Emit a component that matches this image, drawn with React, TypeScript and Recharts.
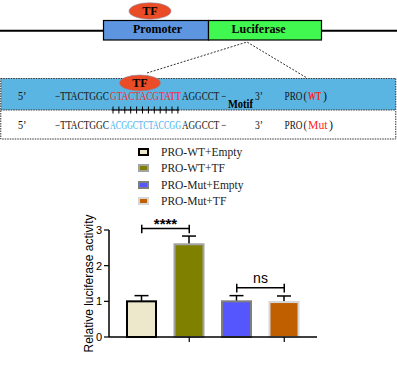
import React, { useLayoutEffect, useRef, useState } from "react";
import { BarChart, Bar, Cell, XAxis, YAxis, Legend, ReferenceLine } from "recharts";

const groups = ["PRO-WT+Empty", "PRO-WT+TF", "PRO-Mut+Empty", "PRO-Mut+TF"];
const activity = [1.0, 2.6, 1.0, 0.98];
const sem = [0.16, 0.23, 0.16, 0.17];
const yTicks = [0, 1, 2, 3];

const fills = ["#EDE8CC", "#808000", "#5656FF", "#C05F00"];
const strokes = ["#000000", "#A3A3A3", "#7E7E7E", "#D6D6D6"];

const data = groups.map((g, i) => ({ group: g, activity: activity[i], sem: sem[i] }));

const serif = '"Liberation Serif", "Times New Roman", serif';
const sans = '"Liberation Sans", Arial, sans-serif';
const red = "#FF1E1E";

// bar with a one-sided (upper) error bar, like GraphPad draws it
const BarWithError = (props: any) => {
  const { x, y, width, height, fill, stroke, payload } = props;
  const perUnit = height / payload.activity;
  const top = y - payload.sem * perUnit;
  const cx = x + width / 2;
  return (
    <g>
      <line x1={cx} y1={y} x2={cx} y2={top} stroke="#000" strokeWidth={1.5} />
      <line x1={cx - 7} y1={top} x2={cx + 7} y2={top} stroke="#000" strokeWidth={1.5} />
      <rect x={x} y={y} width={width} height={height} fill={fill} stroke={stroke} strokeWidth={2} />
    </g>
  );
};

const renderLegend = () => (
  <div style={{ fontFamily: serif, fontSize: 11.5, color: "#222" }}>
    {groups.map((g, i) => (
      <div key={g} style={{ display: "flex", alignItems: "center", height: 16.4 }}>
        <span
          style={{
            display: "inline-block",
            boxSizing: "border-box",
            width: 11,
            height: 8,
            background: fills[i],
            border: `2px solid ${strokes[i]}`,
          }}
        />
        <span style={{ marginLeft: 12, whiteSpace: "nowrap" }}>{g}</span>
      </div>
    ))}
  </div>
);

const YLabel = (props: any) => {
  const { x, y, height } = props.viewBox;
  return (
    <text
      transform={`translate(${x + 5},${y + height / 2}) rotate(-90)`}
      textAnchor="middle"
      dominantBaseline="central"
      fontSize={12}
      fontFamily={sans}
      fill="#000"
    >
      Relative luciferase activity
    </text>
  );
};

// squeezes a text horizontally into width w (the original uses a narrow font)
const FitText = ({ x, y, w, children, ...rest }: any) => {
  const ref = useRef<SVGTextElement>(null);
  const [k, setK] = useState(1);
  useLayoutEffect(() => {
    const n = ref.current ? ref.current.getComputedTextLength() : 0;
    if (n > 0) setK(w / n);
  }, [w, children]);
  return (
    <text ref={ref} transform={`translate(${x},${y}) scale(${k},1)`} {...rest}>
      {children}
    </text>
  );
};

// [text, x, width, colour, bold]
type Seg = [string, number, number, string?, boolean?];
const row1: Seg[] = [
  ["5’", 18, 8.5],
  ["−TTACTGGC", 55, 54],
  ["GTACTACGTATT", 110, 71, red],
  ["AGGCCT −", 182, 44.5],
  ["3’", 255, 8],
  ["PRO", 284.5, 18],
  ["(", 303.5, 3.5],
  ["WT", 308, 13.5, red, true],
  [")", 323, 4],
];
const row2: Seg[] = [
  ["5’", 18, 8.5],
  ["−TTACTGGC", 55, 54],
  ["ACGGCTCTACCGG", 110, 71, "#3AAEF0"],
  ["AGGCCT −", 182, 44.5],
  ["3’", 255, 8],
  ["PRO", 284.5, 18],
  ["(", 303.5, 3.5],
  ["Mut", 308, 19.5, red],
  [")", 329, 4],
];

const SeqRow = ({ segs, y }: { segs: Seg[]; y: number }) => (
  <>
    {segs.map(([t, x, w, c, b], i) => (
      <FitText
        key={i}
        x={x}
        y={y}
        w={w}
        fontSize={12}
        fontFamily={serif}
        fontWeight={b ? "bold" : "normal"}
        fill={c || "#111"}
      >
        {t}
      </FitText>
    ))}
  </>
);

const Diagram = () => (
  <svg width={397} height={378} style={{ position: "absolute", left: 0, top: 0 }}>
    <line x1={0} y1={30.7} x2={397} y2={30.7} stroke="#000" strokeWidth={2} />
    <rect x={103.5} y={20.5} width={105} height={19.5} fill="#5E95E0" stroke="#000" strokeWidth={1.2} />
    <rect x={208.5} y={20.5} width={113} height={19.5} fill="#40F84F" stroke="#000" strokeWidth={1.2} />
    <text x={157.5} y={33} textAnchor="middle" fontSize={12} fontWeight="bold" fontFamily={serif}>Promoter</text>
    <text x={258.5} y={33} textAnchor="middle" fontSize={12} fontWeight="bold" fontFamily={serif}>Luciferase</text>
    <ellipse cx={150} cy={11} rx={21} ry={8.3} fill="#E94C26" stroke="#8C8CA8" strokeWidth={0.6} />
    <text x={150} y={15} textAnchor="middle" fontSize={12} fontWeight="bold" fontFamily={serif}>TF</text>
    <polyline points="147,73 247,42 307,78" fill="none" stroke="#000" strokeWidth={0.8} strokeDasharray="2,1.5" />

    <rect x={0.75} y={78.5} width={395} height={31.5} fill="#5BB5E3" />
    <rect x={0.75} y={110} width={395} height={29} fill="#fff" />
    <rect x={0.75} y={78.5} width={395} height={60.5} fill="none" stroke="#333" strokeWidth={1} strokeDasharray="1.5,1" />
    <line x1={0.75} y1={110} x2={395.75} y2={110} stroke="#333" strokeWidth={1} strokeDasharray="1.5,1" />

    <ellipse cx={140} cy={83} rx={20.5} ry={8} fill="#E94C26" stroke="#8C8CA8" strokeWidth={0.6} />
    <text x={140} y={87} textAnchor="middle" fontSize={12} fontWeight="bold" fontFamily={serif}>TF</text>

    <SeqRow segs={row1} y={100} />
    <SeqRow segs={row2} y={129} />
    <FitText x={228} y={108} w={25} fontSize={11.5} fontWeight="bold" fontFamily={serif}>Motif</FitText>

    <line x1={112} y1={110} x2={179} y2={110} stroke="#000" strokeWidth={1} />
    {Array.from({ length: 12 }, (_, i) => (
      <line key={i} x1={113 + i * 5.9} y1={106.5} x2={113 + i * 5.9} y2={113.5} stroke="#000" strokeWidth={1} />
    ))}
  </svg>
);

export default function App() {
  return (
    <div style={{ position: "absolute", left: 0, top: 0, width: 397, height: 378, background: "#fff", overflow: "hidden" }}>
      <Diagram />
      <div style={{ position: "absolute", left: 0, top: 0 }}>
        <BarChart width={397} height={378} data={data} margin={{ top: 230, right: 80, bottom: 11, left: 84 }}>
          <XAxis
            dataKey="group"
            padding={{ left: 9, right: 9 }}
            tick={() => <g />}
            tickSize={5}
            axisLine={{ stroke: "#000", strokeWidth: 1.5 }}
            tickLine={{ stroke: "#000", strokeWidth: 1.2 }}
          />
          <YAxis
            width={25}
            domain={[0, 3]}
            ticks={yTicks}
            tickSize={5}
            axisLine={{ stroke: "#000", strokeWidth: 1.5 }}
            tickLine={{ stroke: "#000", strokeWidth: 1.2 }}
            tick={{ fontSize: 11, fontFamily: sans, fill: "#000" }}
            label={YLabel}
          />
          <Legend
            layout="vertical"
            align="center"
            verticalAlign="middle"
            width={150}
            content={renderLegend}
            wrapperStyle={{ top: 143.8, left: 138 }}
          />
          <Bar dataKey="activity" barSize={29} shape={BarWithError} isAnimationActive={false}>
            {data.map((d, i) => (
              <Cell key={d.group} fill={fills[i]} stroke={strokes[i]} />
            ))}
          </Bar>

          <ReferenceLine
            ifOverflow="visible"
            segment={[{ x: groups[0], y: 3.04 }, { x: groups[1], y: 3.04 }]}
            stroke="#000"
            strokeWidth={1.5}
            label={{ value: "****", position: "top", offset: 0, fontSize: 15, fontWeight: "bold", fontFamily: sans, fill: "#000" }}
          />
          <ReferenceLine ifOverflow="visible" segment={[{ x: groups[0], y: 2.91 }, { x: groups[0], y: 3.15 }]} stroke="#000" strokeWidth={1.5} />
          <ReferenceLine ifOverflow="visible" segment={[{ x: groups[1], y: 2.91 }, { x: groups[1], y: 3.15 }]} stroke="#000" strokeWidth={1.5} />

          <ReferenceLine
            ifOverflow="visible"
            segment={[{ x: groups[2], y: 1.38 }, { x: groups[3], y: 1.38 }]}
            stroke="#000"
            strokeWidth={1.5}
            label={{ value: "ns", position: "top", offset: 5, fontSize: 14, fontFamily: sans, fill: "#000" }}
          />
          <ReferenceLine ifOverflow="visible" segment={[{ x: groups[2], y: 1.25 }, { x: groups[2], y: 1.49 }]} stroke="#000" strokeWidth={1.5} />
          <ReferenceLine ifOverflow="visible" segment={[{ x: groups[3], y: 1.25 }, { x: groups[3], y: 1.49 }]} stroke="#000" strokeWidth={1.5} />
        </BarChart>
      </div>
    </div>
  );
}
